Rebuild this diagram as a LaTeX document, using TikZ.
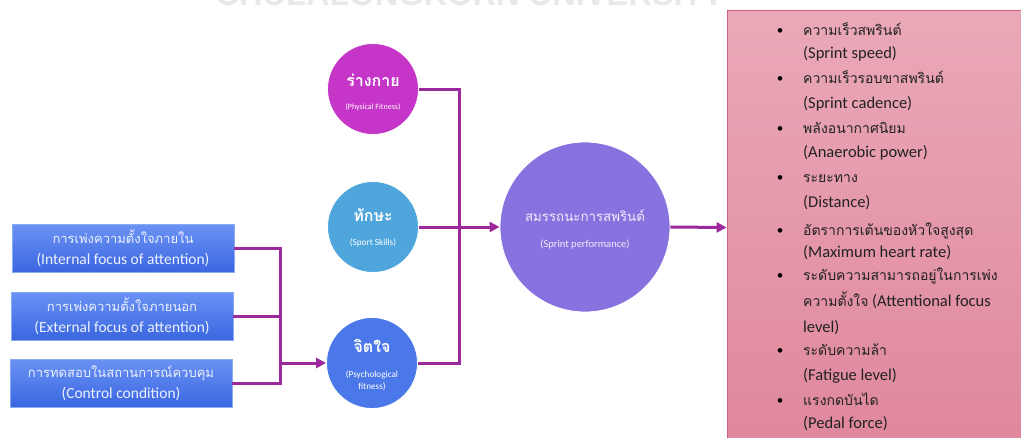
\documentclass[tikz,border=0pt]{standalone}
\usepackage{fontspec}
\setmainfont{Carlito}
\newfontfamily\thai[Script=Thai]{Loma}
\newfontfamily\wmfont{Liberation Sans}
\usetikzlibrary{arrows.meta}
\definecolor{conn}{HTML}{9C2A9C}
\definecolor{boxtop}{HTML}{6A92F4}
\definecolor{boxbot}{HTML}{3A66E0}
\definecolor{boxline}{HTML}{8AAAF5}
\definecolor{boxtext}{HTML}{EEF2FF}
\definecolor{physc}{HTML}{C535C8}
\definecolor{sportc}{HTML}{4FA6DC}
\definecolor{psychc}{HTML}{4A78E8}
\definecolor{perfc}{HTML}{8872E0}
\definecolor{pinktop}{HTML}{EAA9B8}
\definecolor{pinkbot}{HTML}{E0879C}
\definecolor{pinkline}{HTML}{D0607E}
\definecolor{wmgray}{HTML}{E8E8E8}
\definecolor{listtext}{HTML}{222222}
\tikzset{
  condbox/.style={rectangle, draw=boxline, line width=0.6pt, top color=boxtop, bottom color=boxbot,
    minimum width=222pt, minimum height=48pt, inner sep=0pt, align=center, text=boxtext,
    font=\fontsize{15.5}{21}\selectfont},
  factor/.style={circle, minimum size=91pt, inner sep=0pt, draw=white, line width=0.8pt},
  circtitle/.style={text=white, font=\thai\bfseries\fontsize{16}{18}\selectfont, inner sep=0pt},
  circsub/.style={text=white, font=\fontsize{8}{10}\selectfont, inner sep=0pt, align=center},
  link/.style={draw=conn, line width=3pt},
  arrowlink/.style={link, -{Triangle[length=10pt,width=10pt]}},
  itm/.style={anchor=base west, inner sep=0pt, text=listtext, font=\fontsize{16.5}{18}\selectfont},
  thitm/.style={itm, font=\thai\fontsize{14}{16}\selectfont},
  bul/.style={anchor=base, inner sep=0pt, text=black, font=\fontsize{13}{16}\selectfont},
}
\begin{document}
\begin{tikzpicture}[x=1pt,y=-1pt]
\useasboundingbox (0,0) rectangle (1021,437);
\begin{scope}
\clip (0,0) rectangle (1021,437);
% watermark
\node[anchor=base, inner sep=0pt, text=wmgray, font=\wmfont\bfseries\fontsize{32.6}{34}\selectfont] (wm) at (470,5) {CHULALONGKORN UNIVERSITY};
% results box
\node[rectangle, draw=pinkline, line width=0.8pt, top color=pinktop, bottom color=pinkbot,
  minimum width=303pt, minimum height=435pt, inner sep=0pt] (res) at (878.5,227.5) {};
\end{scope}
% condition boxes
\node[condbox] (b1) at (123,248.5) {{\thai\fontsize{13}{15}\selectfont การเพ่งความตั้งใจภายใน}\\(Internal focus of attention)};
\node[condbox] (b2) at (122,316) {{\thai\fontsize{13}{15}\selectfont การเพ่งความตั้งใจภายนอก}\\(External focus of attention)};
\node[condbox] (b3) at (121,383) {{\thai\fontsize{13}{15}\selectfont การทดสอบในสถานการณ์ควบคุม}\\(Control condition)};
% factor circles
\node[factor, fill=physc] (phys) at (373,89) {};
\node[factor, fill=sportc] (sport) at (373,227) {};
\node[factor, fill=psychc] (psych) at (372,363) {};
\node[circtitle] (physT) at (373,80) {ร่างกาย};
\node[circsub] (physS) at (373,107) {(Physical Fitness)};
\node[circtitle] (sportT) at (373,215) {ทักษะ};
\node[circsub, font=\fontsize{9.2}{11}\selectfont] (sportS) at (373,243) {(Sport Skills)};
\node[circsub, font=\fontsize{9.2}{11.5}\selectfont] (psychS) at (372,381) {(Psychological\\fitness)};
\node[circtitle] (psychT) at (372,346) {จิตใจ};
% performance circle
\node[circle, minimum size=170pt, inner sep=0pt, draw=white, line width=0.8pt, fill=perfc] (perf) at (585,227) {};
\node[inner sep=0pt, text=white!88!perfc, font=\thai\fontsize{13.3}{15}\selectfont] (perfT) at (585,216) {สมรรถนะการสพรินต์};
\node[inner sep=0pt, text=white!88!perfc, font=\fontsize{10.5}{12}\selectfont] (perfS) at (585,245) {(Sprint performance)};
% connectors
\coordinate (jl) at (280,363);
\coordinate (jr) at (459,227);
\draw[link] (b1.east) -| (jl);
\draw[link] (b3.east) -| (jl);
\draw[link] (b2.east) -- (b2.east -| jl);
\draw[arrowlink] (jl) -- (psych.west);
\draw[link] (phys.east) -| (jr);
\draw[link] (psych.east) -| (jr);
\draw[arrowlink] (sport.east) -- (perf.west);
\draw[arrowlink] (perf.east) -- (res.west);
% result list
\foreach \y/\n in {30/1,78/2,128/3,177/4,230/5,275/6,350/7,400/8}{
  \node[bul] (bul\n) at (780,\y+4.5) {•};
}
\node[thitm] (r1) at (803,35) {ความเร็วสพรินต์};
\node[itm] (r1e) at (803,58) {(Sprint speed)};
\node[thitm] (r2) at (803,83) {ความเร็วรอบขาสพรินต์};
\node[itm] (r2e) at (803,108) {(Sprint cadence)};
\node[thitm] (r3) at (803,133) {พลังอนากาศนิยม};
\node[itm] (r3e) at (803,157) {(Anaerobic power)};
\node[thitm] (r4) at (803,182) {ระยะทาง};
\node[itm] (r4e) at (803,207) {(Distance)};
\node[thitm] (r5) at (803,235) {อัตราการเต้นของหัวใจสูงสุด};
\node[itm] (r5e) at (803,257) {(Maximum heart rate)};
\node[thitm] (r6) at (803,280) {ระดับความสามารถอยู่ในการเพ่ง};
\node[itm] (r6b) at (803,306) {{\thai\fontsize{14}{16}\selectfont ความตั้งใจ} (Attentional focus};
\node[itm] (r6e) at (803,332) {level)};
\node[thitm] (r7) at (803,355) {ระดับความล้า};
\node[itm] (r7e) at (803,380) {(Fatigue level)};
\node[thitm] (r8) at (803,405) {แรงกดบันได};
\node[itm] (r8e) at (803,428) {(Pedal force)};
\end{tikzpicture}
\end{document}
